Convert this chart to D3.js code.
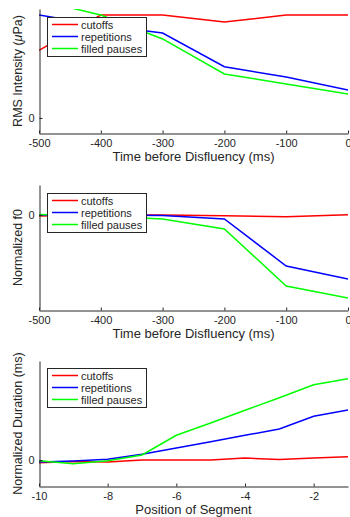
<!DOCTYPE html>
<html>
<head>
<meta charset="utf-8">
<script src="https://cdn.jsdelivr.net/npm/d3@7"></script>
<style>
  body { margin: 0; background: #fff; }
  text { font-family: "Liberation Sans", Arial, Helvetica, sans-serif; fill: #262626; }
</style>
</head>
<body>
<script>
// series names shared by all three panels
const seriesNames = ['cutoffs', 'repetitions', 'filled pauses'];
const seriesColors = ['#ff0000', '#0000ff', '#00ff00'];

// time before disfluency (ms) for panels 1 and 2
const timePoints = [-500, -400, -300, -200, -100, 0];
const timeTicks = [-500, -400, -300, -200, -100, 0];

// RMS intensity (arbitrary units, 0 marked)
const rmsCutoffs = [0.62, 0.945, 0.945, 0.88, 0.945, 0.945];
const rmsRepetitions = [0.945, 0.85, 0.78, 0.47, 0.376, 0.257];
const rmsFilledPauses = [1.08, 0.945, 0.725, 0.404, 0.312, 0.22];

// normalized f0
const f0Cutoffs = [-0.01, 0, 0, -0.007, -0.017, 0.003];
const f0Repetitions = [0, 0, -0.005, -0.04, -0.51, -0.64];
const f0FilledPauses = [0.005, -0.01, -0.04, -0.14, -0.71, -0.83];

// position of segment for panel 3
const segPositions = [-10, -9, -8, -7, -6, -5, -4, -3, -2, -1];
const segTicks = [-10, -8, -6, -4, -2];

// normalized duration (ms)
const durCutoffs = [-0.027, -0.015, -0.02, 0, 0, 0, 0.02, 0.005, 0.02, 0.033];
const durRepetitions = [-0.02, -0.01, 0.007, 0.057, 0.12, 0.183, 0.247, 0.31, 0.437, 0.5];
const durFilledPauses = [-0.007, -0.037, -0.007, 0.05, 0.247, 0.37, 0.497, 0.623, 0.753, 0.813];

const W = 350, H = 517;
const left = 39, right = 348;
const ink = '#262626';

const panels = [
  { top: 9, bottom: 133, xs: timePoints, xDomain: [-500, 0], xTicks: timeTicks,
    yDomain: [-0.138, 1], series: [rmsCutoffs, rmsRepetitions, rmsFilledPauses],
    xLabel: 'Time before Disfluency (ms)', yLabel: 'rms', legendY: 17 },
  { top: 185, bottom: 310, xs: timePoints, xDomain: [-500, 0], xTicks: timeTicks,
    yDomain: [-0.95, 0.3], series: [f0Cutoffs, f0Repetitions, f0FilledPauses],
    xLabel: 'Time before Disfluency (ms)', yLabel: 'Normalized f0', legendY: 193 },
  { top: 361, bottom: 486, xs: segPositions, xDomain: [-10, -1], xTicks: segTicks,
    yDomain: [-0.26, 0.99], series: [durCutoffs, durRepetitions, durFilledPauses],
    xLabel: 'Position of Segment', yLabel: 'Normalized Duration (ms)', legendY: 368 }
];

// plain hyphen minus, like the original figure
const fmt = function(d) { return String(d); };

const svg = d3.select('body').append('svg')
  .attr('width', W)
  .attr('height', H);

panels.forEach(function(p, pi) {
  const x = d3.scaleLinear().domain(p.xDomain).range([left, right]);
  const y = d3.scaleLinear().domain(p.yDomain).range([p.bottom, p.top]);

  const g = svg.append('g');

  // clip lines to the axes box
  g.append('clipPath')
    .attr('id', 'clip' + pi)
    .append('rect')
    .attr('x', left).attr('y', p.top)
    .attr('width', right - left).attr('height', p.bottom - p.top);

  const line = d3.line()
    .x(function(d, i) { return x(p.xs[i]); })
    .y(function(d) { return y(d); });

  const lines = g.append('g').attr('clip-path', 'url(#clip' + pi + ')');
  p.series.forEach(function(vals, si) {
    lines.append('path')
      .datum(vals)
      .attr('d', line)
      .attr('fill', 'none')
      .attr('stroke', seriesColors[si])
      .attr('stroke-width', 1.5);
  });

  // axes, ticks pointing inward
  const xAxis = g.append('g')
    .attr('transform', 'translate(0,' + (p.bottom + 0.5) + ')')
    .call(d3.axisBottom(x).tickValues(p.xTicks).tickSizeInner(-3).tickSizeOuter(0).tickPadding(6)
      .tickFormat(fmt));
  xAxis.select('.domain').attr('stroke', ink);
  xAxis.selectAll('.tick line').attr('stroke', ink);
  xAxis.selectAll('.tick text').attr('fill', ink).style('font-size', '11px')
    .style('font-family', '"Liberation Sans", Arial, sans-serif');

  const yAxis = g.append('g')
    .attr('transform', 'translate(' + (left + 0.5) + ',0)')
    .call(d3.axisLeft(y).tickValues([0]).tickSizeInner(-3).tickSizeOuter(0).tickPadding(5)
      .tickFormat(fmt));
  yAxis.select('.domain').attr('stroke', ink);
  yAxis.selectAll('.tick line').attr('stroke', ink);
  yAxis.selectAll('.tick text').attr('fill', ink).style('font-size', '11px')
    .style('font-family', '"Liberation Sans", Arial, sans-serif');

  // axis titles
  g.append('text')
    .attr('x', (left + right) / 2)
    .attr('y', p.bottom + 28)
    .attr('text-anchor', 'middle')
    .style('font-size', '13px')
    .text(p.xLabel);

  const yl = g.append('text')
    .attr('transform', 'translate(22,' + ((p.top + p.bottom) / 2) + ') rotate(-90)')
    .attr('text-anchor', 'middle')
    .style('font-size', '12.5px');
  if (p.yLabel === 'rms') {
    yl.append('tspan').text('RMS Intensity (');
    yl.append('tspan').style('font-style', 'italic').text('\u03bc');
    yl.append('tspan').text('Pa)');
  } else {
    yl.text(p.yLabel);
  }

  // legend
  const lg = g.append('g').attr('transform', 'translate(47,' + p.legendY + ')');
  lg.append('rect')
    .attr('x', 0.5).attr('y', 0.5)
    .attr('width', 99).attr('height', 39)
    .attr('fill', '#fff')
    .attr('stroke', ink)
    .attr('stroke-width', 1);
  seriesNames.forEach(function(name, si) {
    const ry = 7.5 + si * 12;
    lg.append('line')
      .attr('x1', 5).attr('x2', 31)
      .attr('y1', ry).attr('y2', ry)
      .attr('stroke', seriesColors[si])
      .attr('stroke-width', 1.5);
    lg.append('text')
      .attr('x', 34)
      .attr('y', ry + 4)
      .style('font-size', '11px')
      .text(name);
  });
});
</script>
</body>
</html>
